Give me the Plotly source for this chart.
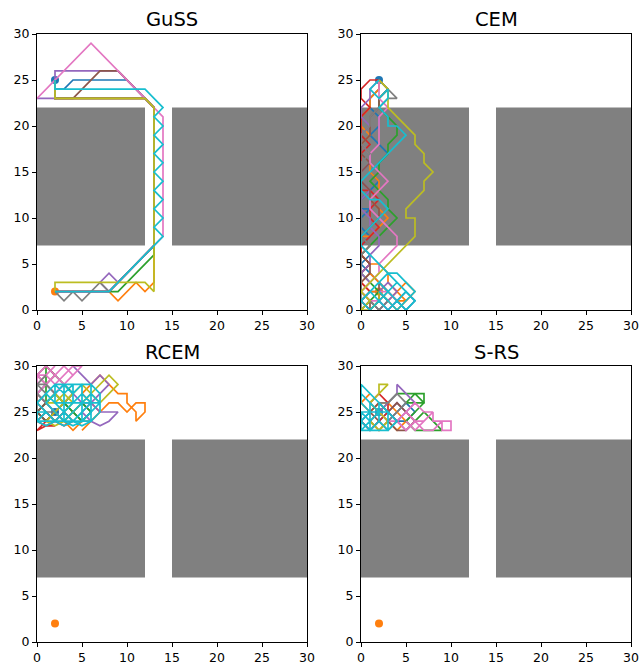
import plotly.graph_objects as go

# ---------------- data ----------------
titles = ["GuSS", "CEM", "RCEM", "S-RS"]
tick_vals = [0, 5, 10, 15, 20, 25, 30]
axis_range = [0, 30]
start_pt = (2, 25)
goal_pt = (2, 2)
obstacles = [(0, 7, 12, 22), (15, 7, 30, 22)]  # x0, y0, x1, y1
colors = ["#1f77b4", "#ff7f0e", "#2ca02c", "#d62728", "#9467bd",
          "#8c564b", "#e377c2", "#7f7f7f", "#bcbd22", "#17becf"]

# GuSS trajectories
guss_blue = [(2,25),(2,24),(3,24),(4,25),(10,25),(12,23),(13,22),(13,7),(8,2),(2,2)]
guss_orange = [(2,25),(2,23),(12,23),(13,22),(13,3),(12,2),(11,3),(9,1),(8,2),(2,2)]
guss_green = [(2,25),(2,23),(12,23),(13,22),(13,6),(9,2),(2,2)]
guss_red = [(2,25),(2,23),(12,23),(13,22),(13,7),(8,2),(2,2)]
guss_purple = [(2,25),(2,23),(0,23),(2,23),(2,26),(9,26),(12,23),(13,22),(13,7),(9,3),(8,4),(7,3),(8,2),(2,2)]
guss_brown = [(2,25),(2,23),(4,23),(7,26),(9,26),(12,23),(13,22),(13,7),(8,2),(2,2)]
guss_pink = [(2,25),(0,23),(6,29),(14,21),(14,8),(8,2),(2,2)]
guss_grey = [(2,25),(2,23),(12,23),(13,22),(13,7),(8,2),(7,3),(5,1),(4,2),(3,1),(2,2)]
guss_olive = [(2,25),(2,23),(12,23),(13,22),(13,2),(12,3),(2,3),(2,2)]
guss_cyan = [(2,25),(2,24),(12,24),(14,22),(13,21),(14,20),(13,19),(14,18),(13,17),(14,16),
             (13,15),(14,14),(13,13),(14,12),(13,11),(14,10),(13,9),(14,8),(8,2),(2,2)]

# CEM trajectories
cem_blue = [(2,25),(2,24),(1,23),(1,22),(2,21),(2,20),(1,19),(2,18),(3,17),(2,16),(1,15),(2,14),(1,13),
            (0,12),(0,11),(1,11),(0,10),(0,9),(1,8),(0,7),(1,6),(0,5),(1,4),(2,3),(3,2),(4,1),(5,2),(6,1),
            (5,0),(4,1),(3,0),(2,1),(1,0),(0,1),(1,2),(2,2)]
cem_orange = [(2,25),(2,24),(1,23),(1,22),(0,21),(0,20),(1,19),(0,18),(1,17),(1,16),(1,15),(2,14),(2,13),
              (1,12),(2,11),(3,10),(2,9),(1,8),(0,8),(0,7),(0,6),(1,5),(2,5),(3,4),(3,3),(4,2),(5,1),(4,0),
              (3,1),(4,2),(5,3),(6,2),(5,1),(4,1),(3,2),(2,3),(1,4),(0,3),(1,2),(2,2)]
cem_green = [(2,25),(3,24),(2,23),(2,22),(3,21),(4,20),(4,19),(3,18),(3,17),(2,16),(2,15),(1,14),(2,13),
             (3,12),(3,11),(4,10),(3,9),(2,8),(1,7),(0,6),(1,5),(0,4),(1,3),(2,2),(3,1),(2,0),(1,1),(0,0),
             (1,1),(2,2)]
cem_red = [(2,25),(1,25),(0,24),(0,23),(1,22),(0,21),(0,20),(0,19),(1,18),(0,17),(0,16),(0,15),(0,14),
           (0,13),(1,13),(2,12),(1,11),(1,10),(2,9),(1,8),(0,7),(0,6),(1,5),(0,4),(0,3),(1,2),(0,1),(1,0),
           (2,1),(2,2)]
cem_purple = [(2,25),(1,24),(1,23),(0,22),(0,21),(1,20),(0,19),(0,18),(1,17),(1,16),(0,15),(0,14),(1,13),
              (0,12),(0,11),(1,10),(1,9),(2,8),(2,7),(1,6),(1,5),(0,4),(1,3),(0,2),(1,1),(2,0),(3,1),(4,2),
              (3,3),(2,2)]
cem_brown = [(2,25),(3,24),(2,23),(2,22),(1,21),(1,20),(1,19),(0,18),(0,17),(1,16),(0,15),(0,14),(1,13),
             (1,12),(2,11),(2,10),(1,9),(0,8),(1,7),(0,6),(1,5),(1,4),(0,3),(0,2),(1,1),(1,0),(2,1),(3,2),
             (2,3),(2,2)]
cem_pink = [(2,25),(2,24),(2,23),(3,22),(2,21),(2,20),(2,19),(2,18),(1,17),(1,16),(2,15),(3,14),(2,13),
            (1,12),(1,11),(2,10),(3,9),(4,8),(4,7),(3,6),(2,5),(2,4),(1,3),(0,2),(1,1),(2,1),(3,0),(4,1),
            (3,2),(2,2)]
cem_grey = [(2,25),(3,24),(4,23),(3,23),(2,22),(1,21),(1,20),(0,19),(0,18),(1,17),(0,16),(0,15),(0,14),
            (0,13),(0,12),(0,11),(0,10),(0,9),(0,8),(1,7),(0,6),(0,5),(0,4),(0,3),(0,2),(0,1),(0,0),(1,1),
            (2,0),(3,1),(2,2)]
cem_olive = [(2,25),(3,24),(3,22),(6,19),(6,18),(7,17),(7,16),(8,15),(7,14),(7,13),(6,12),(5,11),(5,10),
             (6,10),(6,8),(2,4),(1,3),(0,2),(1,1),(0,0),(1,0),(2,1),(2,2)]
cem_cyan = [(2,25),(1,24),(2,23),(3,24),(3,23),(2,22),(3,21),(3,20),(4,20),(5,19),(4,18),(3,17),(2,16),
            (1,15),(0,14),(0,13),(1,12),(2,12),(3,11),(2,10),(1,9),(0,8),(0,7),(1,6),(2,5),(3,4),(4,3),
            (5,2),(4,1),(3,0),(2,1),(1,2),(2,3),(3,2),(4,1),(5,0),(6,1),(5,2),(4,3),(3,2),(2,1),(1,0),
            (0,1),(1,2),(2,3),(3,4),(4,4),(5,3),(6,2),(4,0),(2,2)]

# RCEM trajectories
rcem_blue = [(2,25),(3,26),(4,25),(5,26),(6,25),(5,24),(4,25),(3,24),(2,25),(1,26),(2,27),(3,26),(4,27),
             (3,28),(2,27),(1,28),(0,27),(1,26),(0,25),(1,24),(2,25)]
rcem_orange = [(2,25),(3,24),(4,23),(5,24),(6,24),(7,25),(6,26),(5,27),(6,28),(7,29),(8,28),(9,27),(10,27),
               (10,26),(11,25),(11,24),(12,25),(12,26),(11,26),(10,25),(9,26),(8,26),(7,25),(6,24),(5,23)]
rcem_green = [(2,25),(1,26),(1,27),(1,28),(1,29),(1,30),(2,29),(3,28),(4,27),(3,26),(2,25),(1,24),(0,25),
              (1,26),(2,27),(3,26),(4,25),(5,24),(6,25),(5,26)]
rcem_red = [(2,25),(1,24),(0,23),(1,23.5),(2,24),(3,23.5),(4,24),(3,25),(2,24),(1,25),(0,24),(1,23.5),(2,23.5)]
rcem_purple = [(2,25),(3,26),(4,27),(5,26),(6,26),(7,25),(8,25),(9,25),(8,24),(7,23.5),(6,24),(5,25),(6,26),
               (7,27),(8,28),(7,29),(6,28),(5,29),(4,30)]
rcem_brown = [(2,25),(1,24),(0,25),(1,26),(0,27),(1,28),(0,29),(1,30),(2,29),(1,28),(0,27),(0,26),(1,25),(2,24)]
rcem_pink = [(2,25),(1,26),(0,27),(1,28),(2,29),(3,30),(4,29),(3,28),(2,29),(1,30),(0,29),(1,28),(2,27),
             (3,28),(4,29),(5,30),(4,30),(3,29),(2,28),(1,29),(0,28),(0,29),(1,29),(2,30)]
rcem_grey = [(2,25),(1,25),(0,24),(0,25),(0,26),(1,27),(0,28),(1,28),(2,27),(1,26),(0,27),(0,28),(1,29)]
rcem_olive = [(2,25),(3,26),(4,27),(5,28),(6,27),(7,28),(8,29),(9,28),(8,27),(7,26),(6,27),(5,26),(4,25),
              (3,24),(2,23.5),(1,24),(2,25),(3,26),(2,27),(1,26),(2,26),(3,27),(4,26),(3,25)]
rcem_cyan = [(2,25),(3,24),(4,25),(5,26),(6,27),(7,26),(6,25),(5,24),(4,23.5),(3,24),(2,25),(1,26),(2,27),
             (3,28),(4,27),(5,28),(6,28),(7,27),(7,26),(7,25),(6,24),(5,23.5),(4,24),(3,25),(2,26),(1,27),
             (0,26),(1,25),(0,24),(1,23.5),(2,24),(3,25),(4,26),(5,27),(6,26),(5,25),(4,24),(3,23.5),(2,24),
             (1,25),(0,25),(0,24),(2,24),(4,24),(6,24),(6,26),(6,28),(4,28),(2,28),(2,26),(4,26),(4,28),
             (3,27),(2,28),(1,27),(2,26),(3,26),(5,26),(5,24),(3,24),(3,26),(3,28),(5,28),(5,26),(7,26)]

# S-RS trajectories
srs_blue = [(2,25),(3,24),(4,25),(5,26),(6,25),(5,24),(4,24),(3,25),(2,24),(1,23),(0,24),(1,25)]
srs_orange = [(2,25),(1,24),(2,23),(3,24),(4,23),(5,24),(4,25),(3,26),(2,26),(1,25),(0,26),(1,27)]
srs_green = [(2,25),(3,26),(4,27),(5,27),(6,27),(7,27),(7,26),(6,26),(5,26),(6,27),(7,26),(6,25),(5,24),
             (6,23),(7,23),(8,23),(9,23),(8,24),(7,25),(6,24)]
srs_red = [(2,25),(1,26),(2,27),(3,26),(3,25),(2,24),(1,23),(0,24),(0,25)]
srs_purple = [(2,25),(3,26),(4,27),(4,28),(5,27),(6,26),(5,25),(4,24),(3,25),(4,26),(5,25),(6,24),(5,23),(4,24)]
srs_brown = [(2,25),(3,24),(4,23),(5,23),(6,24),(5,25),(4,26),(3,25),(2,26),(1,25),(2,24),(3,23)]
srs_pink = [(2,25),(3,24),(4,24),(5,25),(6,24),(7,24),(8,25),(8,24),(9,24),(9,23),(10,23),(10,24),(9,24),
            (8,23),(7,23),(6,24),(5,23),(4,24),(5,25),(6,26),(7,25),(8,25),(7,24),(6,23),(5,24)]
srs_grey = [(2,25),(1,24),(2,23),(3,24),(4,25),(5,26),(4,27),(3,26),(2,26),(3,25),(4,24),(3,23)]
srs_olive = [(2,25),(1,26),(2,27),(3,28),(2,28),(2,27),(1,26),(2,25),(3,24),(2,23),(1,24)]
srs_cyan = [(2,25),(1,26),(0,27),(0,26),(1,25),(0,24),(1,23),(2,24),(3,23),(4,24),(3,25),(2,26),(1,27),
            (0,28),(0,27),(1,26),(2,25),(1,24),(0,23),(0,25),(0,23),(3,23),(3,25),(0,25),(1,24),(1,26),
            (1,23),(2,24),(2,26),(3,25),(2,25)]

guss_paths = [guss_blue, guss_orange, guss_green, guss_red, guss_purple,
              guss_brown, guss_pink, guss_grey, guss_olive, guss_cyan]
cem_paths = [cem_blue, cem_orange, cem_green, cem_red, cem_purple,
             cem_brown, cem_pink, cem_grey, cem_olive, cem_cyan]
rcem_paths = [rcem_blue, rcem_orange, rcem_green, rcem_red, rcem_purple,
              rcem_brown, rcem_pink, rcem_grey, rcem_olive, rcem_cyan]
srs_paths = [srs_blue, srs_orange, srs_green, srs_red, srs_purple,
             srs_brown, srs_pink, srs_grey, srs_olive, srs_cyan]
all_paths = [guss_paths, cem_paths, rcem_paths, srs_paths]

# ---------------- layout ----------------
W, H = 639, 662
px_x = [(37, 307), (361, 631), (37, 307), (361, 631)]
px_y = [(34, 310), (34, 310), (366, 642), (366, 642)]

fig = go.Figure()
layout = dict(width=W, height=H, margin=dict(l=0, r=0, t=0, b=0, autoexpand=False),
              paper_bgcolor="white", plot_bgcolor="white", showlegend=False,
              font=dict(family="DejaVu Sans", color="black"))
shapes = []
annotations = []
for i in range(4):
    sfx = "" if i == 0 else str(i + 1)
    xa, ya = "x" + sfx, "y" + sfx
    xd = [px_x[i][0] / W, px_x[i][1] / W]
    yd = [1 - px_y[i][1] / H, 1 - px_y[i][0] / H]
    ax_common = dict(range=axis_range, tickvals=tick_vals, ticks="outside", ticklen=4,
                     tickcolor="black", tickwidth=1, showline=True, linecolor="black",
                     linewidth=1, mirror=True, showgrid=False, zeroline=False,
                     automargin=False,
                     tickfont=dict(size=12.5, family="DejaVu Sans", color="black"))
    layout["xaxis" + sfx] = dict(domain=xd, anchor=ya, **ax_common)
    layout["yaxis" + sfx] = dict(domain=yd, anchor=xa, **ax_common)
    for (x0, y0, x1, y1) in obstacles:
        shapes.append(dict(type="rect", xref=xa, yref=ya, x0=x0, y0=y0, x1=x1, y1=y1,
                           fillcolor="#808080", line=dict(width=0), layer="below"))
    annotations.append(dict(text=titles[i], xref="paper", yref="paper",
                            x=(xd[0] + xd[1]) / 2, y=1 - (px_y[i][0] - 14) / H,
                            xanchor="center", yanchor="middle", showarrow=False,
                            font=dict(size=19.5, family="DejaVu Sans", color="black")))
    # start / goal markers
    fig.add_trace(go.Scatter(x=[start_pt[0]], y=[start_pt[1]], mode="markers",
                             marker=dict(color=colors[0], size=8), xaxis=xa, yaxis=ya))
    fig.add_trace(go.Scatter(x=[goal_pt[0]], y=[goal_pt[1]], mode="markers",
                             marker=dict(color=colors[1], size=8), xaxis=xa, yaxis=ya))
    for k, path in enumerate(all_paths[i]):
        fig.add_trace(go.Scatter(x=[p[0] for p in path], y=[p[1] for p in path],
                                 mode="lines", line=dict(color=colors[k], width=1.7),
                                 xaxis=xa, yaxis=ya, hoverinfo="skip"))

layout["shapes"] = shapes
layout["annotations"] = annotations
fig.update_layout(**layout)
fig.write_html("out.html", config={"displayModeBar": False},
               post_script="document.body.style.margin='0px';document.body.style.overflow='hidden';")
